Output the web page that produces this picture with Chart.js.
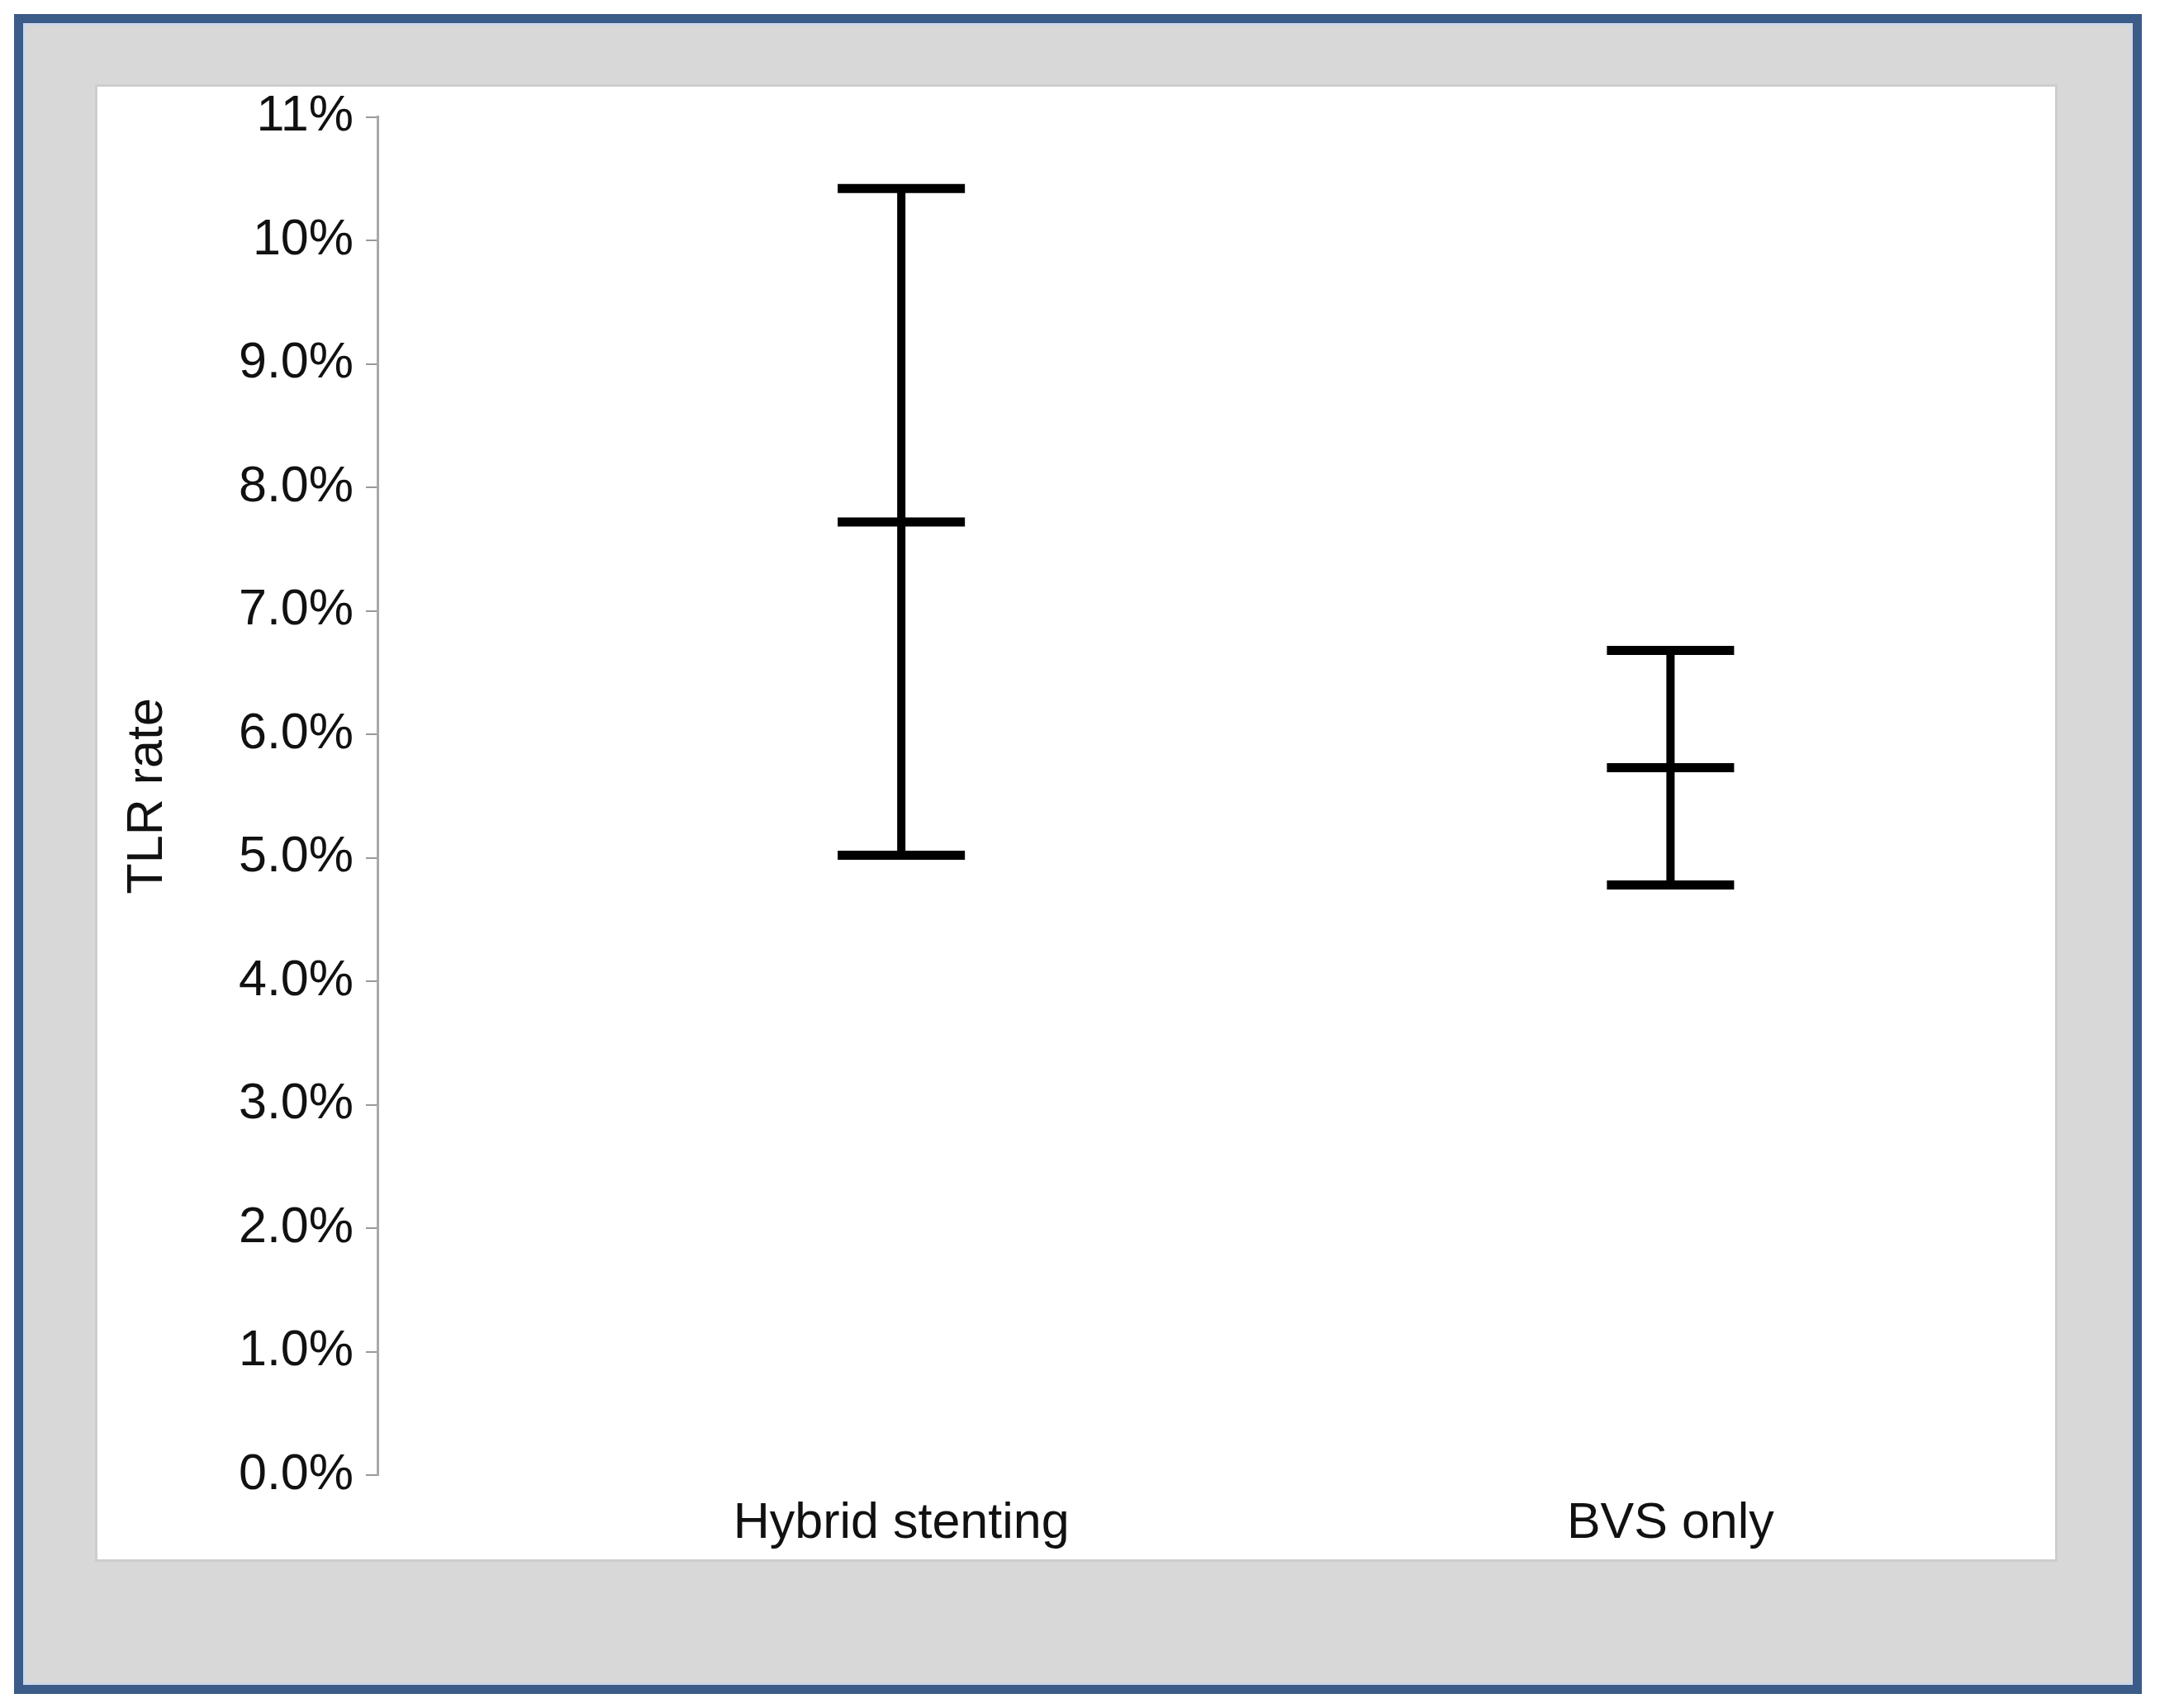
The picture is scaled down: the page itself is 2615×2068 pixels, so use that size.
<!DOCTYPE html>
<html>
<head>
<meta charset="utf-8">
<script src="https://cdn.jsdelivr.net/npm/chart.js@4.4.1/dist/chart.umd.min.js"></script>
<style>
  body { margin: 0; background: #fff; width: 2615px; height: 2068px; position: relative; overflow: hidden; }
  #frame {
    position: absolute; left: 17px; top: 17px; width: 2576px; height: 2034px;
    box-sizing: border-box; border: 11px solid #3b5b88; background: #d8d8d8;
    box-shadow: inset 0 0 0 3px #cbd7ea;
  }
  #panel {
    position: absolute; left: 118px; top: 105px; width: 2370px; height: 1783px;
    background: #fff; box-shadow: 0 0 0 3px #cdcdcd;
  }
  #wrap { position: absolute; left: 118px; top: 90px; width: 2370px; height: 1798px; }
</style>
</head>
<body>
<div id="frame"></div>
<div id="panel"></div>
<div id="wrap"><canvas id="chart" width="2370" height="1798"></canvas></div>
<script>
// TLR rate per group: point estimate with lower / upper limits (percent)
const categories = ["Hybrid stenting", "BVS only"];
const means = [7.72, 5.73];
const lower = [5.02, 4.78];
const upper = [10.42, 6.68];

const yMin = 0;
const yMax = 11;

const FONT = "'Liberation Sans', Arial, sans-serif";

// vertical whiskers: one segment per group, broken by a null point
const whiskers = [];
categories.forEach((c, i) => {
  whiskers.push({ x: i + 1, y: lower[i] });
  whiskers.push({ x: i + 1, y: upper[i] });
  whiskers.push({ x: i + 1.5, y: null });
});

// horizontal caps at lower, mean and upper
const caps = [];
categories.forEach((c, i) => {
  caps.push({ x: i + 1, y: lower[i] });
  caps.push({ x: i + 1, y: means[i] });
  caps.push({ x: i + 1, y: upper[i] });
});

const ctx = document.getElementById("chart").getContext("2d");
new Chart(ctx, {
  type: "line",
  data: {
    datasets: [
      {
        data: whiskers,
        borderColor: "#000",
        borderWidth: 10,
        pointRadius: 0,
        spanGaps: false,
        tension: 0,
      },
      {
        type: "scatter",
        data: caps,
        pointStyle: "line",
        pointRadius: 77,
        pointHoverRadius: 77,
        pointBorderWidth: 11,
        pointHoverBorderWidth: 11,
        borderColor: "#000",
        backgroundColor: "#000",
        showLine: false,
      },
    ],
  },
  options: {
    responsive: false,
    animation: false,
    events: [],
    layout: { autoPadding: false, padding: 0 },
    plugins: { legend: { display: false }, tooltip: { enabled: false } },
    scales: {
      x: {
        type: "linear",
        min: 0.319,
        max: 2.5,
        afterBuildTicks: (scale) => {
          scale.ticks = categories.map((c, i) => ({ value: i + 1 }));
        },
        afterFit: (scale) => {
          scale.height = 102;
        },
        grid: { display: false, drawTicks: false },
        border: { display: false },
        ticks: {
          autoSkip: false,
          maxRotation: 0,
          padding: 23,
          color: "#111",
          font: { family: FONT, size: 61 },
          callback: (v) => categories[v - 1] || "",
        },
      },
      y: {
        min: yMin,
        max: yMax,
        afterFit: (scale) => {
          scale.width = 339;
        },
        title: {
          display: true,
          text: "TLR rate",
          color: "#111",
          font: { family: FONT, size: 61 },
          padding: { top: 25, bottom: 0 },
        },
        grid: {
          drawOnChartArea: false,
          drawTicks: true,
          tickLength: 14,
          lineWidth: 2,
          color: (c) => (c.tick && c.tick.value % 1 ? "#c8c8c8" : "#999999"),
        },
        border: { display: true, color: "#a8a8a8", width: 3 },
        ticks: {
          stepSize: 0.5,
          padding: 15,
          color: "#111",
          font: { family: FONT, size: 61 },
          callback: (v) => {
            if (v % 1) return "";
            return v >= 10 ? v + "%" : v.toFixed(1) + "%";
          },
        },
      },
    },
  },
});
</script>
</body>
</html>
